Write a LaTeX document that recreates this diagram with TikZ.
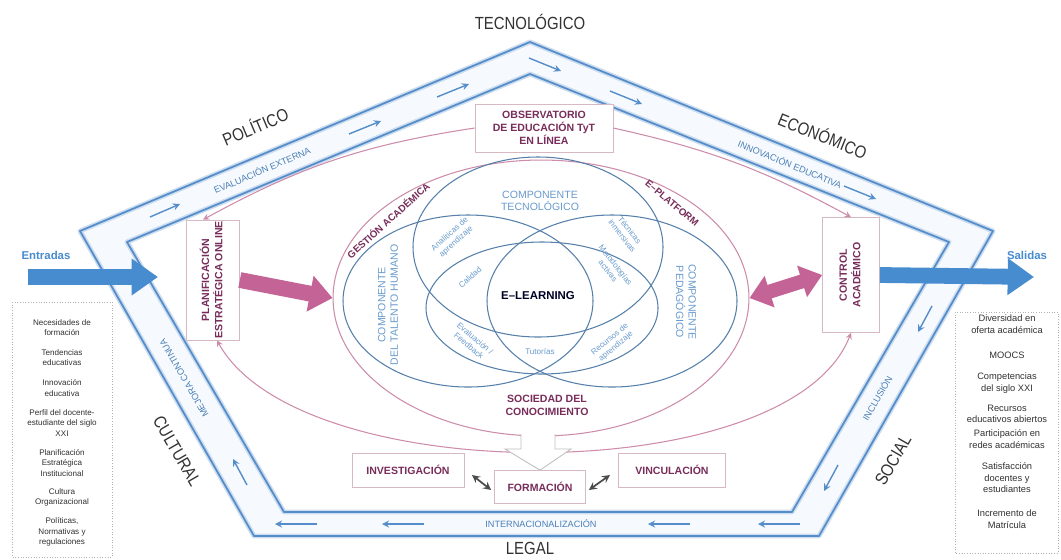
\documentclass[tikz,border=0pt]{standalone}
\usepackage{fontspec}
\usepackage{graphicx}
\setmainfont{Liberation Sans}
\newfontfamily\condfont[FakeStretch=0.85]{Liberation Sans}
\usetikzlibrary{calc,positioning,shapes.geometric,arrows.meta}
\tikzset{>=stealth}
\definecolor{pentblue}{RGB}{84,141,201}
\definecolor{bandblue}{RGB}{246,250,254}
\definecolor{vennblue}{RGB}{86,128,170}
\definecolor{venntext}{RGB}{105,155,205}
\definecolor{pinkline}{RGB}{205,140,170}
\definecolor{pinkfill}{RGB}{196,100,150}
\definecolor{boxtext}{RGB}{120,45,90}
\definecolor{boxline}{RGB}{215,185,195}
\definecolor{arrowblue}{RGB}{72,140,208}
\definecolor{darklabel}{RGB}{50,50,50}

\begin{document}
\begin{tikzpicture}[x=0.02cm, y=-0.02cm,
  pentglow/.style={pentblue!30, line width=2.8pt, line join=round},
  pentline/.style={pentblue, line width=1pt, line join=round},
  sidelabel/.style={font=\condfont\fontsize{10}{12}\selectfont, text=darklabel},
  bandlabel/.style={font=\fontsize{5.2}{6}\selectfont, text=pentblue!90!black},
  bandarrow/.style={->, pentblue, line width=0.8pt},
  pinkbox/.style={draw=boxline, fill=white, font=\bfseries\fontsize{6}{7.5}\selectfont, text=boxtext, align=center, inner sep=0pt},
  pinkarrow/.style={->, pinkline, line width=0.6pt},
  vennline/.style={vennblue, line width=0.6pt},
  venntag/.style={font=\fontsize{4.6}{5.4}\selectfont, text=venntext, align=center},
  venncomp/.style={font=\fontsize{6}{7.2}\selectfont, text=venntext, align=center},
  pinktag/.style={font=\bfseries\fontsize{5.6}{6.6}\selectfont, text=boxtext, align=center},
  fatpink/.style={pinkfill, line width=9pt, -{Triangle[length=13pt,width=20pt]}},
  fatpinkboth/.style={pinkfill, line width=8pt, {Triangle[length=12pt,width=18pt]}-{Triangle[length=12pt,width=18pt]}},
  fatblue/.style={arrowblue, line width=9pt, -{Triangle[length=15pt,width=20pt]}},
  listbox/.style={draw=gray!60, densely dotted, line width=0.5pt},
  listtxt/.style={align=center, text=darklabel, inner sep=0pt}]
\useasboundingbox (0,0) rectangle (1061,559);
\fill[white] (0,0) rectangle (1061,559);

% pentagons
\coordinate (o1) at (530,42);  \coordinate (o2) at (993,231);
\coordinate (o3) at (819,536); \coordinate (o4) at (254,536);
\coordinate (o5) at (80,231);
\coordinate (i1) at (530,74);  \coordinate (i2) at (949,242);
\coordinate (i3) at (792,512); \coordinate (i4) at (284,512);
\coordinate (i5) at (127,242);
\fill[bandblue, even odd rule] (o1)--(o2)--(o3)--(o4)--(o5)--cycle (i1)--(i2)--(i3)--(i4)--(i5)--cycle;
\draw[pentglow] (o1)--(o2)--(o3)--(o4)--(o5)--cycle;
\draw[pentglow] (i1)--(i2)--(i3)--(i4)--(i5)--cycle;
\draw[pentline] (o1)--(o2)--(o3)--(o4)--(o5)--cycle;
\draw[pentline] (i1)--(i2)--(i3)--(i4)--(i5)--cycle;

% flow arrows in the band
\foreach \ax/\ay/\bx/\by in {150/217/180/204, 349/134/381/121, 437/97/469/84,
  529/58/561/71, 610/91/642/104, 844/186/876/199,
  932/306/918/332, 838/465/824/491,
  317/524/275/524, 424/524/382/524, 690/524/648/524, 800/524/758/524,
  247/485/233/459}
  \draw[bandarrow] (\ax,\ay) -- (\bx,\by);

% outer labels
\node[sidelabel] (tecno) at (530,22) {TECNOLÓGICO};
\node[sidelabel, rotate=23] (poli) at (255,126) {POLÍTICO};
\node[sidelabel, rotate=-22] (econ) at (823,135) {ECONÓMICO};
\node[sidelabel, rotate=60] (soci) at (893,460) {SOCIAL};
\node[sidelabel] (legal) at (530,548) {LEGAL};
\node[sidelabel, rotate=-60] (cult) at (177,451) {CULTURAL};

\node[bandlabel, rotate=23] (evext) at (262,170) {EVALUACIÓN EXTERNA};
\node[bandlabel, rotate=-22] (innov) at (790,164) {INNOVACIÓN EDUCATIVA};
\node[bandlabel, rotate=60] (inclu) at (877,398) {INCLUSIÓN};
\node[bandlabel] (inter) at (541,524) {INTERNACIONALIZACIÓN};
\node[bandlabel, rotate=120] (mejora) at (184,378) {MEJORA CONTINUA};

% pink loop
\node[draw=pinkline, line width=0.6pt, ellipse, minimum width=8.32cm, minimum height=5.52cm, inner sep=0pt] (gest) at (541,298) {};
\node[pinktag, rotate=42] (gestlbl) at (388,220) {GESTIÓN ACADÉMICA};
\node[pinktag, rotate=-40] (platlbl) at (672,203) {E--PLATFORM};

% venn
\coordinate (tec) at (538,247);
\coordinate (tal) at (468,301);
\coordinate (ped) at (612,301);
\coordinate (mid) at (542,308);
\draw[vennline] (tec) ellipse [x radius=125, y radius=90];
\draw[vennline] (tal) ellipse [x radius=125, y radius=86];
\draw[vennline] (ped) ellipse [x radius=125, y radius=86];
\draw[vennline] (mid) ellipse [x radius=116, y radius=66];

\node[venncomp] (comptec) at (540,201) {COMPONENTE\\TECNOLÓGICO};
\node[venncomp, rotate=90] (comptal) at (388,305) {COMPONENTE\\DEL TALENTO HUMANO};
\node[venncomp, rotate=-90] (compped) at (686,302) {COMPONENTE\\PEDAGÓGICO};
\node[venntag, rotate=42] (anali) at (453,238) {Analíticas de\\aprendizaje};
\node[venntag, rotate=42] (calid) at (470,277) {Calidad};
\node[venntag, rotate=-40] (evalu) at (472,342) {Evaluación /\\Feedback};
\node[venntag] (tutor) at (540,352) {Tutorías};
\node[venntag, rotate=-52] (tecni) at (626,233) {Técnicas\\inmersivas};
\node[venntag, rotate=-52] (metod) at (612,268) {Metodologías\\activas};
\node[venntag, rotate=40] (recur) at (613,343) {Recursos de\\aprendizaje};
\node[font=\bfseries\fontsize{6.5}{8}\selectfont, text=black!85!blue] (elearn) at (538,296) {E--LEARNING};

% boxes
\node[pinkbox, minimum width=2.76cm, minimum height=0.96cm] (obs) at (544,128) {OBSERVATORIO\\DE EDUCACIÓN TyT\\EN LÍNEA};
\node[pinkbox, minimum width=1.06cm, minimum height=2.4cm] (plan) at (213,280)
  {\rotatebox{90}{\begin{tabular}{@{}c@{}}PLANIFICACIÓN\\ESTRATÉGICA ONLINE\end{tabular}}};
\node[pinkbox, minimum width=1.14cm, minimum height=2.3cm] (ctrl) at (851,275)
  {\rotatebox{90}{\begin{tabular}{@{}c@{}}CONTROL\\ACADÉMICO\end{tabular}}};

% pink connectors
\draw[pinkarrow] (obs.west) to[bend right=10] ([xshift=-0.2cm]plan.north);
\draw[pinkarrow] (obs.east) to[bend left=8] (ctrl.north);
\draw[pinkarrow, <->] ([xshift=0.08cm]plan.south) .. controls (300,490) and (790,490) .. (ctrl.south);
\draw[fatpink] (plan.east) -- (gest.west);
\draw[fatpinkboth] (gest.east) -- (ctrl.west);

% society and the three boxes
\node[pinktag, font=\bfseries\fontsize{6}{7.4}\selectfont] (socie) at (547,405) {SOCIEDAD DEL\\CONOCIMIENTO};
\node[pinkbox, minimum width=2.24cm, minimum height=0.68cm] (inv) at (408,470) {INVESTIGACIÓN};
\node[pinkbox, minimum width=2.14cm, minimum height=0.68cm] (vinc) at (672,470) {VINCULACIÓN};
\node[pinkbox, minimum width=1.82cm, minimum height=0.66cm] (form) at (540,487) {FORMACIÓN};
\fill[white] (521,434) -- (521,449) -- (505,449) -- (form.north) -- (571,449) -- (555,449) -- (555,434) -- cycle;
\draw[gray!50, line width=0.5pt] (521,434) -- (521,449) -- (505,449) -- (form.north) -- (571,449) -- (555,449) -- (555,434);
\coordinate (invend) at (472,475);
\coordinate (vincend) at (610,475);
\draw[<->, line width=1pt, black!70] (invend) -- ([xshift=-0.06cm, yshift=-0.06cm]form.west);
\draw[<->, line width=1pt, black!70] (vincend) -- ([xshift=0.06cm, yshift=-0.06cm]form.east);

% inputs and outputs
\coordinate (inS) at (28,277);
\coordinate (inT) at (158,277);
\coordinate (outT) at (1034,277);
\draw[fatblue] (inS) -- (inT);
\draw[fatblue] (ctrl.east) -- (outT);
\node[font=\bfseries\fontsize{6.5}{8}\selectfont, text=arrowblue] (entr) at (46,255) {Entradas};
\node[font=\bfseries\fontsize{6.5}{8}\selectfont, text=arrowblue] (sali) at (1027,255) {Salidas};

\draw[listbox] (12,302) rectangle (112,557);
\foreach \txt/\yy [count=\k] in {{Necesidades de\\formación}/328, {Tendencias\\educativas}/358,
  {Innovación\\educativa}/388, {Perfil del docente-\\estudiante del siglo\\XXI}/423,
  {Planificación\\Estratégica\\Institucional}/463, {Cultura\\Organizacional}/497,
  {Políticas,\\Normativas y\\regulaciones}/532}
  \node[listtxt, font=\fontsize{4.6}{5.8}\selectfont] (need\k) at (62,\yy) {\txt};

\draw[listbox] (955,312) rectangle (1058,553);
\foreach \txt/\yy [count=\k] in {{Diversidad en\\oferta académica}/324, {MOOCS}/355,
  {Competencias\\del siglo XXI}/383, {Recursos\\educativos abiertos}/414,
  {Participación en\\redes académicas}/439, {Satisfacción\\docentes y\\estudiantes}/478,
  {Incremento de\\Matrícula}/519}
  \node[listtxt, font=\fontsize{5.3}{6.6}\selectfont] (res\k) at (1007,\yy) {\txt};
\end{tikzpicture}
\end{document}
